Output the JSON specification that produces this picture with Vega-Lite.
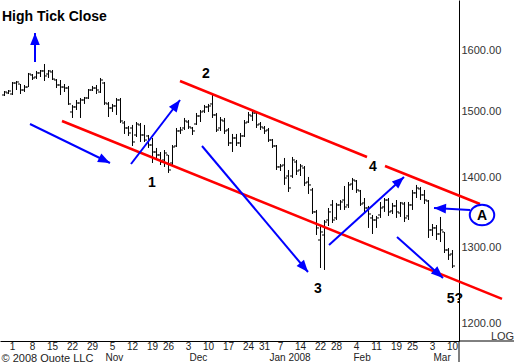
{
"$schema": "https://vega.github.io/schema/vega-lite/v6.json",
"width": 459,
"height": 341,
"autosize": {"type": "none"},
"padding": {"left": 0, "top": 0, "right": 55, "bottom": 21},
"background": "#ffffff",
"config": {"view": {"stroke": null}, "font": "Liberation Sans"},
"title": {"text": "High Tick Close", "anchor": "start", "frame": "group", "orient": "top", "offset": 0, "dy": 24, "dx": 2, "fontSize": 14, "fontWeight": "bold", "font": "Liberation Sans", "color": "#000000"},
"datasets": {
"bars": [
{"date":"2007-09-27","open":1526.2,"high":1532.6,"low":1524.6,"close":1531.0},
{"date":"2007-09-28","open":1529.4,"high":1534.2,"low":1527.8,"close":1532.6},
{"date":"2007-10-01","open":1527.8,"high":1547.2,"low":1526.2,"close":1545.5},
{"date":"2007-10-02","open":1545.5,"high":1548.8,"low":1534.2,"close":1547.2},
{"date":"2007-10-03","open":1543.9,"high":1543.9,"low":1527.8,"close":1534.2},
{"date":"2007-10-04","open":1534.2,"high":1542.3,"low":1531.0,"close":1539.0},
{"date":"2007-10-05","open":1539.0,"high":1561.9,"low":1539.0,"close":1560.2},
{"date":"2007-10-08","open":1558.6,"high":1560.2,"low":1550.4,"close":1553.7},
{"date":"2007-10-09","open":1555.3,"high":1565.2,"low":1552.0,"close":1561.9},
{"date":"2007-10-10","open":1561.9,"high":1566.8,"low":1555.3,"close":1565.2},
{"date":"2007-10-11","open":1565.2,"high":1576.7,"low":1548.8,"close":1557.0},
{"date":"2007-10-12","open":1560.2,"high":1566.8,"low":1553.7,"close":1565.2},
{"date":"2007-10-15","open":1563.5,"high":1566.8,"low":1550.4,"close":1552.0},
{"date":"2007-10-16","open":1550.4,"high":1552.0,"low":1537.4,"close":1542.3},
{"date":"2007-10-17","open":1542.3,"high":1550.4,"low":1526.2,"close":1539.0},
{"date":"2007-10-18","open":1539.0,"high":1543.9,"low":1531.0,"close":1537.4},
{"date":"2007-10-19","open":1537.4,"high":1540.7,"low":1510.3,"close":1511.9},
{"date":"2007-10-22","open":1499.2,"high":1510.3,"low":1489.8,"close":1507.1},
{"date":"2007-10-23","open":1507.1,"high":1518.2,"low":1502.3,"close":1513.4},
{"date":"2007-10-24","open":1513.4,"high":1521.4,"low":1489.8,"close":1518.2},
{"date":"2007-10-25","open":1518.2,"high":1523.0,"low":1511.9,"close":1521.4},
{"date":"2007-10-26","open":1521.4,"high":1535.8,"low":1519.8,"close":1534.2},
{"date":"2007-10-29","open":1534.2,"high":1540.7,"low":1532.6,"close":1537.4},
{"date":"2007-10-30","open":1537.4,"high":1542.3,"low":1527.8,"close":1534.2},
{"date":"2007-10-31","open":1531.0,"high":1553.7,"low":1529.4,"close":1550.4},
{"date":"2007-11-01","open":1545.5,"high":1547.2,"low":1510.3,"close":1513.4},
{"date":"2007-11-02","open":1511.9,"high":1515.0,"low":1491.3,"close":1505.5},
{"date":"2007-11-05","open":1505.5,"high":1511.9,"low":1499.2,"close":1508.7},
{"date":"2007-11-06","open":1508.7,"high":1521.4,"low":1494.5,"close":1518.2},
{"date":"2007-11-07","open":1518.2,"high":1521.4,"low":1482.0,"close":1485.1},
{"date":"2007-11-08","open":1482.0,"high":1485.1,"low":1465.0,"close":1474.2},
{"date":"2007-11-09","open":1474.2,"high":1477.3,"low":1461.9,"close":1466.5},
{"date":"2007-11-12","open":1474.2,"high":1478.9,"low":1446.6,"close":1452.7},
{"date":"2007-11-13","open":1463.4,"high":1483.5,"low":1460.3,"close":1480.4},
{"date":"2007-11-14","open":1478.9,"high":1482.0,"low":1452.7,"close":1463.4},
{"date":"2007-11-15","open":1463.4,"high":1478.9,"low":1452.7,"close":1455.7},
{"date":"2007-11-16","open":1461.9,"high":1463.4,"low":1443.6,"close":1448.1},
{"date":"2007-11-19","open":1448.1,"high":1458.8,"low":1421.0,"close":1437.5},
{"date":"2007-11-20","open":1437.5,"high":1443.6,"low":1425.5,"close":1433.0},
{"date":"2007-11-21","open":1433.0,"high":1437.5,"low":1418.0,"close":1422.5},
{"date":"2007-11-23","open":1425.5,"high":1440.5,"low":1415.1,"close":1436.0},
{"date":"2007-11-26","open":1433.0,"high":1433.0,"low":1406.2,"close":1410.6},
{"date":"2007-11-27","open":1421.0,"high":1448.1,"low":1418.0,"close":1445.1},
{"date":"2007-11-28","open":1446.6,"high":1474.2,"low":1445.1,"close":1469.6},
{"date":"2007-11-29","open":1469.6,"high":1475.8,"low":1465.0,"close":1471.1},
{"date":"2007-11-30","open":1474.2,"high":1489.8,"low":1471.1,"close":1485.1},
{"date":"2007-12-03","open":1483.5,"high":1486.6,"low":1472.7,"close":1475.8},
{"date":"2007-12-04","open":1474.2,"high":1475.8,"low":1463.4,"close":1469.6},
{"date":"2007-12-05","open":1480.4,"high":1497.6,"low":1478.9,"close":1492.9},
{"date":"2007-12-06","open":1492.9,"high":1502.3,"low":1483.5,"close":1499.2},
{"date":"2007-12-07","open":1500.7,"high":1510.3,"low":1497.6,"close":1507.1},
{"date":"2007-12-10","open":1507.1,"high":1511.9,"low":1499.2,"close":1508.7},
{"date":"2007-12-11","open":1511.9,"high":1526.2,"low":1489.8,"close":1494.5},
{"date":"2007-12-12","open":1494.5,"high":1497.6,"low":1468.0,"close":1471.1},
{"date":"2007-12-13","open":1474.2,"high":1491.3,"low":1469.6,"close":1486.6},
{"date":"2007-12-14","open":1485.1,"high":1489.8,"low":1465.0,"close":1469.6},
{"date":"2007-12-17","open":1471.1,"high":1474.2,"low":1446.6,"close":1451.2},
{"date":"2007-12-18","open":1451.2,"high":1465.0,"low":1437.5,"close":1458.8},
{"date":"2007-12-19","open":1458.8,"high":1465.0,"low":1446.6,"close":1451.2},
{"date":"2007-12-20","open":1451.2,"high":1466.5,"low":1445.1,"close":1461.9},
{"date":"2007-12-21","open":1461.9,"high":1486.6,"low":1460.3,"close":1482.0},
{"date":"2007-12-24","open":1483.5,"high":1499.2,"low":1482.0,"close":1494.5},
{"date":"2007-12-26","open":1492.9,"high":1500.7,"low":1485.1,"close":1497.6},
{"date":"2007-12-27","open":1497.6,"high":1500.7,"low":1474.2,"close":1478.9},
{"date":"2007-12-28","open":1480.4,"high":1483.5,"low":1471.1,"close":1475.8},
{"date":"2007-12-31","open":1474.2,"high":1477.3,"low":1465.0,"close":1469.6},
{"date":"2008-01-02","open":1471.1,"high":1474.2,"low":1452.7,"close":1455.7},
{"date":"2008-01-03","open":1455.7,"high":1457.3,"low":1443.6,"close":1446.6},
{"date":"2008-01-04","open":1446.6,"high":1448.1,"low":1410.6,"close":1415.1},
{"date":"2008-01-07","open":1415.1,"high":1419.5,"low":1409.1,"close":1416.5},
{"date":"2008-01-08","open":1418.0,"high":1428.5,"low":1388.6,"close":1398.8},
{"date":"2008-01-09","open":1401.7,"high":1410.6,"low":1378.4,"close":1384.2},
{"date":"2008-01-10","open":1401.7,"high":1430.0,"low":1398.8,"close":1425.5},
{"date":"2008-01-11","open":1422.5,"high":1425.5,"low":1403.2,"close":1409.1},
{"date":"2008-01-14","open":1410.6,"high":1419.5,"low":1401.7,"close":1416.5},
{"date":"2008-01-15","open":1413.6,"high":1416.5,"low":1387.1,"close":1391.5},
{"date":"2008-01-16","open":1392.9,"high":1400.3,"low":1375.5,"close":1388.6},
{"date":"2008-01-17","open":1381.3,"high":1384.2,"low":1346.9,"close":1349.8},
{"date":"2008-01-18","open":1349.8,"high":1352.6,"low":1317.5,"close":1327.3},
{"date":"2008-01-22","open":1310.6,"high":1331.4,"low":1272.6,"close":1321.7},
{"date":"2008-01-23","open":1317.5,"high":1338.4,"low":1270.0,"close":1335.6},
{"date":"2008-01-24","open":1338.4,"high":1355.4,"low":1330.0,"close":1349.8},
{"date":"2008-01-25","open":1359.7,"high":1366.8,"low":1334.2,"close":1338.4},
{"date":"2008-01-28","open":1341.3,"high":1362.6,"low":1338.4,"close":1359.7},
{"date":"2008-01-29","open":1359.7,"high":1366.8,"low":1352.6,"close":1364.0},
{"date":"2008-01-30","open":1366.8,"high":1387.1,"low":1352.6,"close":1356.9},
{"date":"2008-01-31","open":1359.7,"high":1392.9,"low":1355.4,"close":1388.6},
{"date":"2008-02-01","open":1390.0,"high":1398.8,"low":1381.3,"close":1395.8},
{"date":"2008-02-04","open":1394.4,"high":1395.8,"low":1377.0,"close":1381.3},
{"date":"2008-02-05","open":1379.9,"high":1381.3,"low":1358.3,"close":1361.1},
{"date":"2008-02-06","open":1362.6,"high":1369.7,"low":1348.3,"close":1355.4},
{"date":"2008-02-07","open":1355.4,"high":1358.3,"low":1327.3,"close":1346.9},
{"date":"2008-02-08","open":1341.3,"high":1345.5,"low":1318.9,"close":1338.4},
{"date":"2008-02-11","open":1338.4,"high":1344.1,"low":1327.3,"close":1341.3},
{"date":"2008-02-12","open":1345.5,"high":1364.0,"low":1341.3,"close":1355.4},
{"date":"2008-02-13","open":1356.9,"high":1369.7,"low":1349.8,"close":1366.8},
{"date":"2008-02-14","open":1366.8,"high":1369.7,"low":1344.1,"close":1349.8},
{"date":"2008-02-15","open":1351.2,"high":1362.6,"low":1346.9,"close":1358.3},
{"date":"2008-02-19","open":1358.3,"high":1366.8,"low":1341.3,"close":1349.8},
{"date":"2008-02-20","open":1348.3,"high":1364.0,"low":1342.7,"close":1362.6},
{"date":"2008-02-21","open":1361.1,"high":1364.0,"low":1335.6,"close":1341.3},
{"date":"2008-02-22","open":1344.1,"high":1364.0,"low":1338.4,"close":1359.7},
{"date":"2008-02-25","open":1359.7,"high":1381.3,"low":1352.6,"close":1377.0},
{"date":"2008-02-26","open":1377.0,"high":1388.6,"low":1369.7,"close":1384.2},
{"date":"2008-02-27","open":1382.8,"high":1385.7,"low":1366.8,"close":1374.1},
{"date":"2008-02-28","open":1374.1,"high":1381.3,"low":1361.1,"close":1366.8},
{"date":"2008-02-29","open":1365.4,"high":1366.8,"low":1313.4,"close":1324.5},
{"date":"2008-03-03","open":1324.5,"high":1332.8,"low":1316.1,"close":1327.3},
{"date":"2008-03-04","open":1327.3,"high":1331.4,"low":1310.6,"close":1318.9},
{"date":"2008-03-05","open":1318.9,"high":1342.7,"low":1307.8,"close":1324.5},
{"date":"2008-03-06","open":1321.7,"high":1321.7,"low":1292.8,"close":1296.9},
{"date":"2008-03-07","open":1296.9,"high":1299.6,"low":1283.4,"close":1290.1},
{"date":"2008-03-10","open":1291.5,"high":1296.9,"low":1272.6,"close":1275.3}
],
"channel": [
{"t1":"2007-11-30T18:40","p1":1548.8,"t2":"2008-02-07T14:08","p2":1430.0},
{"t1":"2008-02-14T05:05","p1":1416.5,"t2":"2008-03-20T04:03","p2":1361.1},
{"t1":"2007-10-18T08:34","p1":1485.1,"t2":"2008-03-28T06:22","p2":1232.0}
],
"frame": [
{"t1":"2008-03-12T10:36","p1":1178.7,"t2":"2008-03-12T10:36","p2":1150.0},
{"t1":"2008-03-12T10:36","p1":1178.7,"t2":"2008-04-01T16:19","p2":1178.7}
],
"arrows": [
{"t1":"2007-10-08T10:08","p1":1580.0,"t2":"2007-10-08T10:08","p2":1628.8,"heading":0},
{"t1":"2007-10-06T13:58","p1":1480.4,"t2":"2007-11-05T00:29","p2":1421.0,"heading":116},
{"t1":"2007-11-12T17:56","p1":1419.5,"t2":"2007-11-30T18:40","p2":1518.2,"heading":37},
{"t1":"2007-12-08T20:59","p1":1446.6,"t2":"2008-01-16T21:04","p2":1267.3,"heading":140},
{"t1":"2008-01-24T14:33","p1":1303.7,"t2":"2008-02-21T04:54","p2":1400.3,"heading":48},
{"t1":"2008-02-18T15:04","p1":1314.7,"t2":"2008-03-06T13:18","p2":1259.4,"heading":132},
{"t1":"2008-03-16T11:44","p1":1352.6,"t2":"2008-03-03T05:50","p2":1355.4,"heading":273}
],
"circle": [
{"t":"2008-03-20T21:45","p":1345.5}
],
"labels": [
{"t":"2007-11-20T11:23","p":1391.5,"label":"1"},
{"t":"2007-12-10T08:17","p":1560.2,"label":"2"},
{"t":"2008-01-20T13:24","p":1245.0,"label":"3"},
{"t":"2008-02-09T19:06","p":1415.1,"label":"4"},
{"t":"2008-03-10T23:17","p":1232.0,"label":"5?"},
{"t":"2008-03-20T21:45","p":1344.1,"label":"A"}
]
},
"layer": [
{
"data": {"name": "bars"},
"encoding": {
"x": {"field": "date", "type": "ordinal",
"scale": {"type": "band", "paddingInner": 0, "paddingOuter": 0.875, "align": 0.357, "round": false},
"axis": {"orient": "bottom", "title": null, "labelAngle": 0, "ticks": false, "grid": false, "domain": true, "domainColor": "#000000", "domainWidth": 1,
"values": ["2007-10-01","2007-10-08","2007-10-15","2007-10-22","2007-10-29","2007-11-05","2007-11-12","2007-11-19","2007-11-26","2007-12-03","2007-12-10","2007-12-17","2007-12-24","2007-12-31","2008-01-07","2008-01-14","2008-01-22","2008-01-28","2008-02-04","2008-02-11","2008-02-19","2008-02-25","2008-03-03","2008-03-10"],
"labelExpr": "toNumber(substring(datum.value, 8, 10))",
"labelPadding": 0.5, "labelFontSize": 10, "labelColor": "#222222", "labelFont": "Liberation Sans", "labelOverlap": false, "labelBound": false}}
},
"layer": [
{"mark": {"type": "rule", "color": "#000000", "strokeWidth": 1},
"encoding": {
"y": {"field": "low", "type": "quantitative",
"scale": {"type": "log", "domain": [1178.7, 1686.3], "nice": false, "zero": false},
"axis": {"orient": "right", "values": [1200, 1300, 1400, 1500, 1600], "format": ".2f", "ticks": false, "grid": false, "domain": true, "domainColor": "#000000", "domainWidth": 1, "labelPadding": 2, "labelFontSize": 11, "labelColor": "#333333", "labelFont": "Liberation Sans", "labelBaseline": "middle",
"title": "LOG", "titleAngle": 0, "titleX": 43, "titleY": 336, "titleAlign": "center", "titleBaseline": "middle", "titleFontSize": 11, "titleFontWeight": "normal", "titleColor": "#333333", "titleFont": "Liberation Sans"}},
"y2": {"field": "high"}
}},
{"mark": {"type": "tick", "color": "#000000", "size": 2, "thickness": 1, "xOffset": -1.5, "opacity": 1},
"encoding": {"y": {"field": "open", "type": "quantitative"}}},
{"mark": {"type": "tick", "color": "#000000", "size": 2, "thickness": 1, "xOffset": 1.5, "opacity": 1},
"encoding": {"y": {"field": "close", "type": "quantitative"}}}
]
},
{
"layer": [
{"data": {"name": "channel"},
"mark": {"type": "rule", "color": "#ff0000", "strokeWidth": 2.5, "clip": false},
"encoding": {
"x": {"field": "t1", "type": "temporal",
"scale": {"domain": [{"year": 2007, "month": 9, "date": 25, "hours": 13, "minutes": 2}, {"year": 2008, "month": 3, "date": 12, "hours": 10, "minutes": 36}]},
"axis": {"orient": "bottom", "values": [{"year": 2007, "month": 11, "date": 3, "hours": 4, "minutes": 19}, {"year": 2007, "month": 12, "date": 4, "hours": 2, "minutes": 10}, {"year": 2008, "month": 1, "date": 2, "hours": 12, "minutes": 39}, {"year": 2008, "month": 2, "date": 2, "hours": 10, "minutes": 29}, {"year": 2008, "month": 3, "date": 2, "hours": 21, "minutes": 0}],
"format": "%b", "labelExpr": "month(datum.value) === 0 ? 'Jan 2008' : datum.label",
"labelAlign": "left", "labelAngle": 0, "labelPadding": 11, "labelFontSize": 10, "labelColor": "#222222", "labelFont": "Liberation Sans", "labelOverlap": false, "labelBound": false, "labelFlush": false,
"ticks": false, "domain": false, "grid": false,
"title": "© 2008 Quote LLC", "titleX": 1, "titleY": 20, "titleAlign": "left", "titleBaseline": "alphabetic", "titleFontSize": 11, "titleFontWeight": "normal", "titleColor": "#222222", "titleFont": "Liberation Sans"}},
"x2": {"field": "t2"},
"y": {"field": "p1", "type": "quantitative"},
"y2": {"field": "p2"}
}},
{"data": {"name": "frame"},
"mark": {"type": "rule", "color": "#000000", "strokeWidth": 1, "clip": false},
"encoding": {
"x": {"field": "t1", "type": "temporal"},
"x2": {"field": "t2"},
"y": {"field": "p1", "type": "quantitative"},
"y2": {"field": "p2"}
}},
{"data": {"name": "arrows"},
"mark": {"type": "rule", "color": "#0000ff", "strokeWidth": 2, "clip": false},
"encoding": {
"x": {"field": "t1", "type": "temporal"},
"x2": {"field": "t2"},
"y": {"field": "p1", "type": "quantitative"},
"y2": {"field": "p2"}
}},
{"data": {"name": "arrows"},
"mark": {"type": "point", "shape": "M0,0L-0.8,2L0.8,2Z", "filled": true, "color": "#0000ff", "size": 144, "opacity": 1, "clip": false},
"encoding": {
"x": {"field": "t2", "type": "temporal"},
"y": {"field": "p2", "type": "quantitative"},
"angle": {"field": "heading", "type": "quantitative", "scale": null}
}},
{"data": {"name": "circle"},
"mark": {"type": "point", "shape": "M-1,0A1,0.84 0 1,1 1,0A1,0.84 0 1,1 -1,0Z", "filled": false, "stroke": "#0000ff", "strokeWidth": 2, "size": 600, "opacity": 1, "clip": false},
"encoding": {
"x": {"field": "t", "type": "temporal"},
"y": {"field": "p", "type": "quantitative"}
}},
{"data": {"name": "labels"},
"mark": {"type": "text", "fontSize": 14, "fontWeight": "bold", "color": "#000000", "align": "center", "baseline": "middle", "font": "Liberation Sans", "clip": false},
"encoding": {
"x": {"field": "t", "type": "temporal"},
"y": {"field": "p", "type": "quantitative"},
"text": {"field": "label", "type": "nominal"}
}}
]
}
],
"resolve": {"scale": {"x": "independent"}}
}
